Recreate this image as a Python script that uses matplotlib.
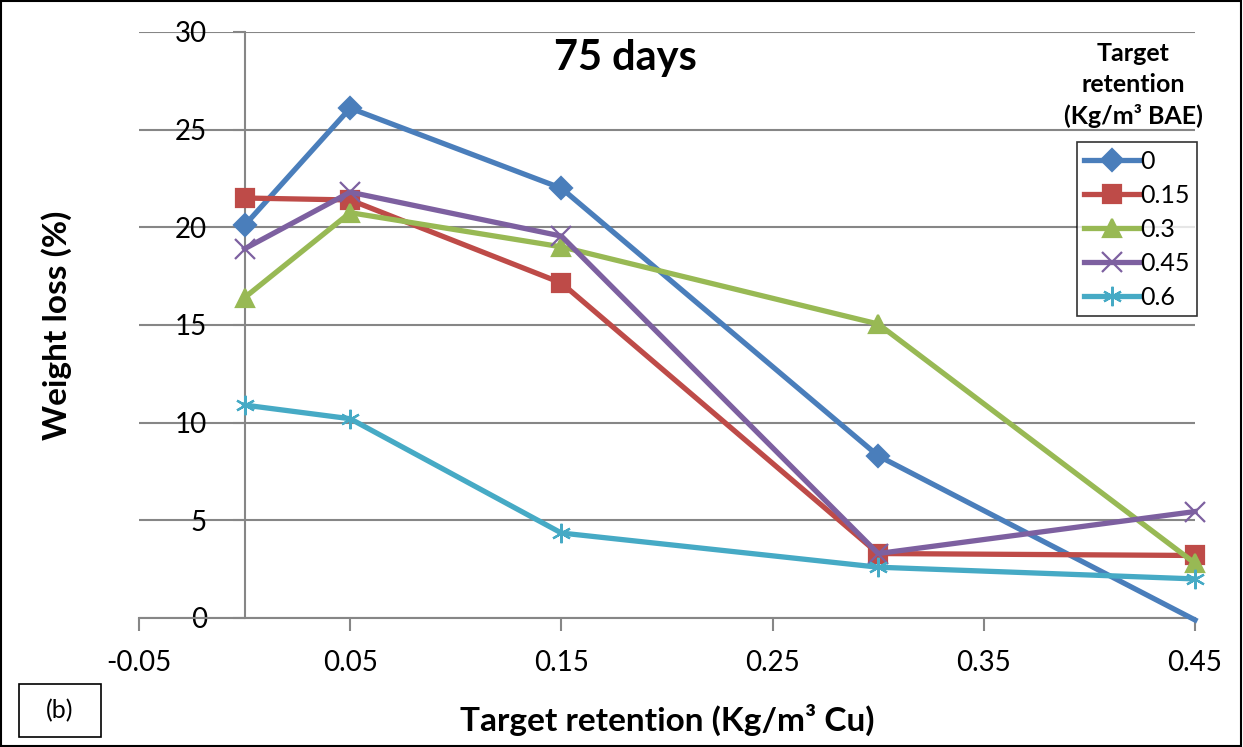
import matplotlib.pyplot as plt
from matplotlib.patches import Rectangle

plt.rcParams['font.family'] = ['Lato', 'DejaVu Sans']

x_vals = [0, 0.05, 0.15, 0.3, 0.45]
series_names = ['0', '0.15', '0.3', '0.45', '0.6']
loss_0 = [20.1, 26.1, 22.0, 8.3, -0.1]
loss_015 = [21.5, 21.4, 17.15, 3.3, 3.2]
loss_03 = [16.4, 20.75, 19.0, 15.05, 2.8]
loss_045 = [18.9, 21.8, 19.55, 3.3, 5.45]
loss_06 = [10.9, 10.2, 4.35, 2.6, 2.0]
x_ticks = [-0.05, 0.05, 0.15, 0.25, 0.35, 0.45]
y_ticks = [0, 5, 10, 15, 20, 25, 30]

colors = ['#4A7EBB', '#BE4B48', '#98B954', '#7D60A0', '#46AAC5']
markers = ['D', 's', '^', 'x', (6, 2, 0)]
msizes = [11, 13, 13, 14, 14]

fig = plt.figure(figsize=(12.43, 7.47), dpi=100)
ax = fig.add_axes([0.1118, 0.1727, 0.8496, 0.7845])

all_series = [loss_0, loss_015, loss_03, loss_045, loss_06]
for vals, name, c, m, ms in zip(all_series, series_names, colors, markers, msizes):
    # points below the axis get no marker (as in the original)
    shown = [i for i, v in enumerate(vals) if v >= 0]
    ax.plot(x_vals, vals, color=c, lw=3.8, marker=m, ms=ms, mew=1.6,
            markevery=shown, label=name, clip_on=False, zorder=3)

ax.set_xlim(-0.05, 0.45)
ax.set_ylim(0, 30)
ax.set_xticks(x_ticks)
ax.set_xticklabels(['-0.05', '0.05', '0.15', '0.25', '0.35', '0.45'])
ax.set_yticks(y_ticks)
ax.yaxis.grid(True, color='#868686', lw=1.5)
ax.set_axisbelow(True)

for s in ['top', 'right']:
    ax.spines[s].set_visible(False)
ax.spines['left'].set_position(('data', 0))
ax.spines['left'].set_color('#868686')
ax.spines['left'].set_linewidth(1.5)
ax.spines['bottom'].set_color('#868686')
ax.spines['bottom'].set_linewidth(1.5)
ax.tick_params(axis='both', colors='#868686', length=9, width=1.5, labelsize=20,
               labelcolor='black')
ax.tick_params(axis='y', pad=18)
ax.tick_params(axis='x', pad=14)

ax.set_xlabel('Target retention (Kg/m³ Cu)', fontsize=24, fontweight='bold')
ax.set_ylabel('Weight loss (%)', fontsize=24, fontweight='bold')
ax.xaxis.label.set_va('center')
ax.yaxis.label.set_va('center')
ax.xaxis.set_label_coords(0.5, -0.174)
ax.yaxis.set_label_coords(-0.078, 0.5)

fig.text(0.503, 0.922, '75 days', fontsize=30, fontweight='bold', ha='center', va='center')
fig.text(0.9115, 0.886, 'Target\nretention\n(Kg/m³ BAE)', fontsize=18, fontweight='bold',
         ha='center', va='center', linespacing=1.42)

leg = ax.legend(loc='upper left', bbox_to_anchor=(0.888, 0.812), fontsize=18,
                frameon=True, fancybox=False, edgecolor='black', handlelength=2.2,
                handletextpad=0.05, borderpad=0.3, labelspacing=0.44, borderaxespad=0)
leg.get_frame().set_linewidth(1.2)

fig.patches.append(Rectangle((0.015, 0.013), 0.066, 0.072, transform=fig.transFigure,
                             fill=False, edgecolor='black', lw=1.2))
fig.text(0.048, 0.049, '(b)', fontsize=18, ha='center', va='center')
fig.patches.append(Rectangle((0.001, 0.001), 0.997, 0.997, transform=fig.transFigure,
                             fill=False, edgecolor='black', lw=1.5))

fig.savefig('out.png', dpi=100)
